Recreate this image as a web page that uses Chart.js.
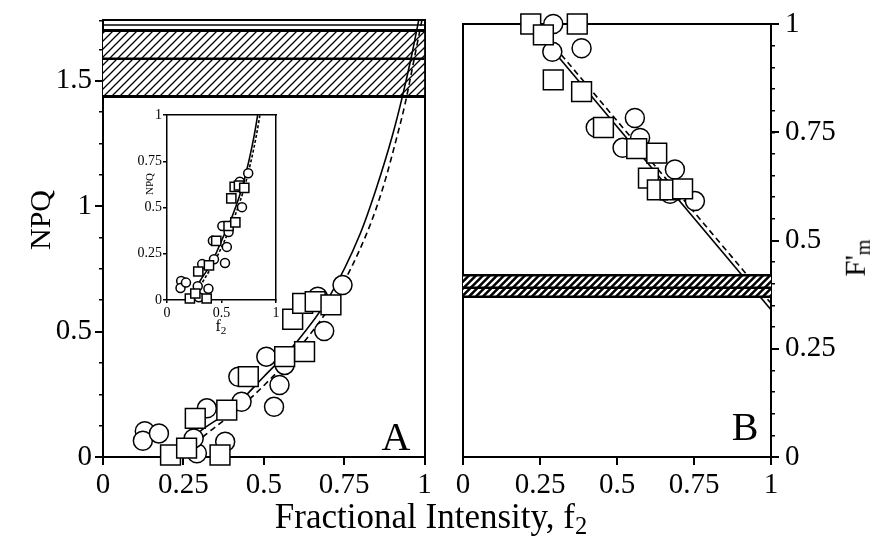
<!DOCTYPE html>
<html>
<head>
<meta charset="utf-8">
<title>NPQ and F'm against fractional intensity</title>
<script src="https://cdn.jsdelivr.net/npm/chart.js@4.4.1/dist/chart.umd.min.js"></script>
<style>
body { margin: 0; background: #fff; }
#fig { position: relative; width: 882px; height: 546px; overflow: hidden; font-family: "Liberation Serif", serif; color: #000; }
#fig canvas { position: absolute; }
.t { position: absolute; white-space: nowrap; line-height: 1; transform: translate(-50%, -50%); }
.rot { transform: translate(-50%, -50%) rotate(-90deg); }
sub { font-size: 70%; vertical-align: -0.25em; }
</style>
</head>
<body>
<div id="fig">
  <canvas id="cA" width="440" height="546" style="left:0;top:0"></canvas>
  <canvas id="cB" width="442" height="546" style="left:440px;top:0"></canvas>
  <canvas id="cIn" width="170" height="250" style="left:120px;top:95px"></canvas>
  <div class="t rot" style="left:40px;top:220px;font-size:30px">NPQ</div>
  <div class="t rot" style="left:857px;top:258px;font-size:29px">F'<sub>m</sub></div>
  <div class="t" style="left:431px;top:519px;font-size:35px">Fractional Intensity, f<sub>2</sub></div>
  <div class="t" style="left:396px;top:437px;font-size:40px">A</div>
  <div class="t" style="left:745px;top:427px;font-size:40px">B</div>
  <div class="t rot" style="left:149px;top:184px;font-size:11px">NPQ</div>
  <div class="t" style="left:221px;top:327px;font-size:16px">f<sub>2</sub></div>
</div>
<script>
// panel A : NPQ against fractional intensity f2 (inset uses the same points)
const aSquareF   = [0.21, 0.26, 0.287, 0.364, 0.385, 0.452, 0.565, 0.627, 0.59, 0.621, 0.66, 0.709];
const aSquareNPQ = [0.008, 0.035, 0.154, 0.008, 0.187, 0.32, 0.40, 0.42, 0.549, 0.612, 0.619, 0.606];
const aCircleF   = [0.13, 0.124, 0.174, 0.292, 0.282, 0.323, 0.38, 0.431, 0.421, 0.508, 0.549, 0.532, 0.565, 0.688, 0.668, 0.745];
const aCircleNPQ = [0.103, 0.065, 0.094, 0.015, 0.074, 0.194, 0.061, 0.22, 0.32, 0.40, 0.287, 0.20, 0.367, 0.502, 0.639, 0.685];
const aSolidF    = [0.22, 0.30, 0.40, 0.50, 0.60, 0.70, 0.80, 0.85, 0.90, 0.93, 0.96, 0.985];
const aSolidNPQ  = [0.0, 0.10, 0.19, 0.32, 0.455, 0.63, 0.89, 1.07, 1.28, 1.43, 1.60, 1.76];
const aDashF     = [0.24, 0.32, 0.42, 0.52, 0.62, 0.72, 0.82, 0.87, 0.915, 0.94, 0.97, 0.995];
const aDashNPQ   = [0.0, 0.09, 0.19, 0.31, 0.45, 0.63, 0.89, 1.07, 1.28, 1.41, 1.60, 1.76];
const aBand      = [1.437, 1.587, 1.70];   // hatched band edges
const aTopRule   = 1.722;

// panel B : F'm against fractional intensity f2
const bSquareF  = [0.22, 0.371, 0.261, 0.293, 0.385, 0.456, 0.564, 0.629, 0.602, 0.631, 0.672, 0.713];
const bSquareFm = [1.0, 1.0, 0.975, 0.871, 0.844, 0.761, 0.712, 0.702, 0.644, 0.617, 0.617, 0.619];
const bCircleF  = [0.293, 0.385, 0.29, 0.431, 0.558, 0.575, 0.518, 0.688, 0.672, 0.753];
const bCircleFm = [1.0, 0.944, 0.936, 0.761, 0.783, 0.737, 0.714, 0.664, 0.608, 0.591];
const bSolidF   = [0.22, 1.0];
const bSolidFm  = [1.0, 0.34];
const bDashF    = [0.235, 1.0];
const bDashFm   = [1.0, 0.355];
const bBand     = [0.37, 0.391, 0.42];

// ticks
const fTicks     = [0, 0.25, 0.5, 0.75, 1];
const npqTicks   = [0, 0.5, 1, 1.5];
const fmTicks    = [0, 0.25, 0.5, 0.75, 1];
const insetXTicks = [0, 0.5, 1];
const insetYTicks = [0, 0.25, 0.5, 0.75, 1];
const npqMax = 1.74;

const serif = '"Liberation Serif", "Times New Roman", serif';
Chart.defaults.font.family = serif;
Chart.defaults.color = '#000';

const pts = (xs, ys) => xs.map((x, i) => ({ x: x, y: ys[i] }));
const flat = y => [{ x: 0, y: y }, { x: 1, y: y }];
const fmt = v => String(+v.toFixed(2));

function hatch(step, width, dark) {
  const c = document.createElement('canvas');
  c.width = step; c.height = step;
  const g = c.getContext('2d');
  g.fillStyle = dark ? '#000' : '#fff';
  g.fillRect(0, 0, step, step);
  g.strokeStyle = dark ? '#fff' : '#000';
  g.lineWidth = width;
  g.beginPath();
  g.moveTo(-1, step + 1); g.lineTo(step + 1, -1);
  g.moveTo(-2, 2); g.lineTo(2, -2);
  g.moveTo(step - 2, step + 2); g.lineTo(step + 2, step - 2);
  g.stroke();
  return g.createPattern(c, 'repeat');
}

function markers(data, style, r, ord) {
  return { data: data, showLine: false, pointStyle: style, pointRadius: r, pointHoverRadius: r,
    pointBackgroundColor: '#fff', pointBorderColor: '#000', pointBorderWidth: 1.5, order: ord, clip: false };
}
function curve(data, dash, ord) {
  return { data: data, borderColor: '#000', borderWidth: 1.6, borderDash: dash, pointRadius: 0,
    cubicInterpolationMode: 'monotone', fill: false, order: ord, clip: 0 };
}
function band(y, to, pattern, ord) {
  return { data: flat(y), borderColor: 'transparent', borderWidth: 0, pointRadius: 0,
    fill: { value: to }, backgroundColor: pattern, order: ord, clip: 0 };
}
function rule(y, w, ord) {
  return { data: flat(y), borderColor: '#000', borderWidth: w, pointRadius: 0, fill: false, order: ord, clip: 0 };
}

function axis(pos, max, ticks, size, tl, pad, fit, weight) {
  return {
    type: 'linear', position: pos, min: 0, max: max, weight: weight || 1,
    afterBuildTicks: s => { s.ticks = ticks.map(v => ({ value: v })); },
    ticks: { font: { family: serif, size: size }, color: '#000', padding: pad, maxRotation: 0, autoSkip: false, callback: fmt },
    grid: { drawOnChartArea: false, tickLength: tl, color: '#000', lineWidth: size > 20 ? 2 : 1.5 },
    border: { color: '#000', width: size > 20 ? 2 : 1.5 },
    afterFit: s => { if (s.isHorizontal()) s.height = fit; else s.width = fit; }
  };
}
function minor(pos, max, step) {
  return {
    type: 'linear', position: pos, min: 0, max: max, weight: 0,
    ticks: { display: false, stepSize: step },
    grid: { drawOnChartArea: false, tickLength: 4, color: '#000', lineWidth: 1.5 },
    border: { display: false },
    afterFit: s => { s.width = 0; }
  };
}
function edge(pos, max, w) {
  return {
    type: 'linear', position: pos, min: 0, max: max, weight: 0,
    ticks: { display: false }, grid: { drawOnChartArea: false, drawTicks: false },
    border: { display: true, color: '#000', width: w },
    afterFit: s => { if (s.isHorizontal()) s.height = 0; else s.width = 0; }
  };
}

const base = {
  responsive: false, animation: false, events: [],
  plugins: { legend: { display: false }, tooltip: { enabled: false }, filler: { drawTime: 'beforeDatasetDraw' } }
};

// ---- panel A ----
const hatchA = hatch(8, 1.3, false);
new Chart(document.getElementById('cA'), {
  type: 'line',
  data: { datasets: [
    markers(pts(aSquareF, aSquareNPQ), 'rect', 14, 0),
    markers(pts(aCircleF, aCircleNPQ), 'circle', 9.5, 1),
    curve(pts(aSolidF, aSolidNPQ), [], 2),
    curve(pts(aDashF, aDashNPQ), [6, 4], 2),
    rule(aBand[0], 3, 3),
    rule(aBand[1], 2.5, 3),
    rule(aBand[2], 3, 3),
    rule(aTopRule, 1.5, 3),
    band(aBand[2], aBand[1], hatchA, 4),
    band(aBand[1], aBand[0], hatchA, 4)
  ] },
  options: Object.assign({}, base, {
    layout: { padding: { left: 0, top: 20, right: 13, bottom: 0 } },
    scales: {
      x: axis('bottom', 1, fTicks, 29, 8, 3, 89),
      y: axis('left', npqMax, npqTicks, 29, 8, 3, 103),
      yMinor: minor('left', npqMax, 0.125),
      xTop: edge('top', 1, 2),
      yRight: edge('right', npqMax, 2)
    }
  })
});

// ---- inset of panel A ----
new Chart(document.getElementById('cIn'), {
  type: 'line',
  data: { datasets: [
    markers(pts(aSquareF, aSquareNPQ), 'rect', 6.5, 0),
    markers(pts(aCircleF, aCircleNPQ), 'circle', 4.5, 1),
    curve(pts(aSolidF, aSolidNPQ), [], 2),
    curve(pts(aDashF, aDashNPQ), [3, 2], 2)
  ] },
  options: Object.assign({}, base, {
    layout: { padding: { left: 0, top: 20, right: 14, bottom: 0 } },
    scales: {
      x: axis('bottom', 1, insetXTicks, 14, 3, 2, 45),
      y: axis('left', 1, insetYTicks, 14, 4, 1, 47),
      xTop: edge('top', 1, 1.5),
      yRight: edge('right', 1, 1.5)
    }
  })
});

// ---- panel B ----
const hatchB = hatch(7, 2.4, true);
new Chart(document.getElementById('cB'), {
  type: 'line',
  data: { datasets: [
    markers(pts(bSquareF, bSquareFm), 'rect', 14, 0),
    markers(pts(bCircleF, bCircleFm), 'circle', 9.5, 1),
    rule(bBand[0], 2.5, 2),
    rule(bBand[1], 2.5, 2),
    rule(bBand[2], 2.5, 2),
    band(bBand[2], bBand[1], hatchB, 3),
    band(bBand[1], bBand[0], hatchB, 3),
    curve(pts(bSolidF, bSolidFm), [], 4),
    curve(pts(bDashF, bDashFm), [6, 4], 4)
  ] },
  options: Object.assign({}, base, {
    layout: { padding: { left: 23, top: 24, right: 0, bottom: 0 } },
    scales: {
      x: axis('bottom', 1, fTicks, 29, 8, 3, 89),
      y: axis('right', 1, fmTicks, 29, 8, 6, 111),
      yMinor: minor('right', 1, 0.05),
      xTop: edge('top', 1, 2),
      yLeft: edge('left', 1, 2)
    }
  })
});
</script>
</body>
</html>
